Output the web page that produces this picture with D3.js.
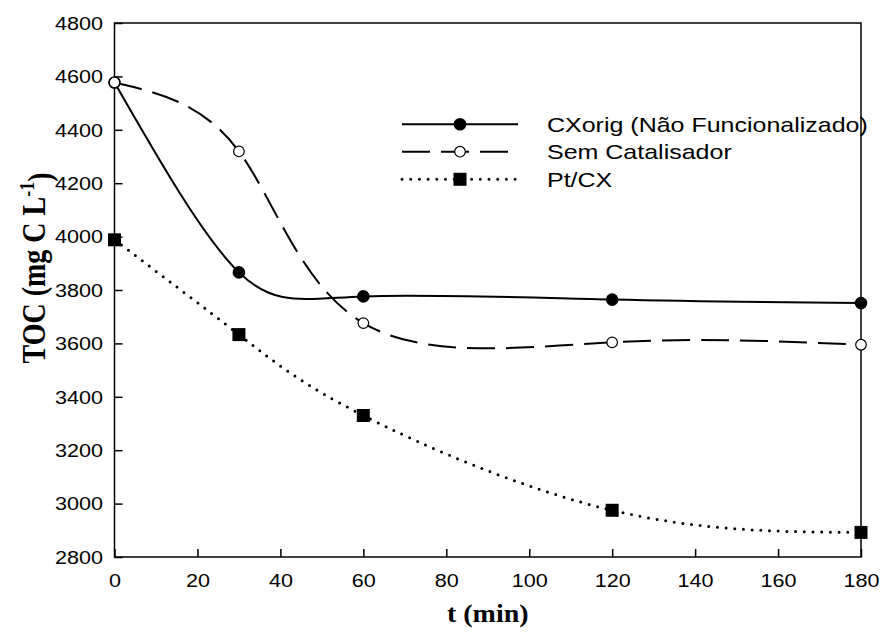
<!DOCTYPE html>
<html><head><meta charset="utf-8">
<script src="https://cdn.jsdelivr.net/npm/d3@7"></script>
<style>body{margin:0;background:#fff}</style>
</head><body>
<svg id="c" width="881" height="633"></svg>
<script>
const times = [0, 30, 60, 120, 180];
const cxorig = [4577, 3866, 3776, 3764, 3751];
const semCat = [4577, 4319, 3676, 3604, 3595];
const ptcx = [3988, 3633, 3330, 2975, 2892];
const xTicks = [0, 20, 40, 60, 80, 100, 120, 140, 160, 180];
const yTicks = [2800, 3000, 3200, 3400, 3600, 3800, 4000, 4200, 4400, 4600, 4800];
const seriesNames = ["CXorig (Não Funcionalizado)", "Sem Catalisador", "Pt/CX"];

const L = 114.5, R = 861, T = 23, B = 557;
const SX = 1.2;
const svg = d3.select("#c");
const x = d3.scaleLinear().domain([0, 180]).range([L, R]);
const y = d3.scaleLinear().domain([2800, 4800]).range([B, T]);

const sans = "Liberation Sans, Arial, sans-serif";
const serif = "Liberation Serif, Times New Roman, serif";

// axes
const ax = svg.append("g").attr("transform", `translate(0,${B})`)
  .call(d3.axisBottom(x).tickValues(xTicks).tickSizeInner(-8).tickSizeOuter(0).tickPadding(17));
const ay = svg.append("g").attr("transform", `translate(${L},0)`)
  .call(d3.axisLeft(y).tickValues(yTicks).tickSizeInner(-8).tickSizeOuter(0).tickPadding(9.5).tickFormat(d3.format("d")));
[ax, ay].forEach(g => {
  g.select(".domain").remove();
  g.selectAll(".tick line").attr("stroke", "#000").attr("stroke-width", 1.5);
  g.selectAll(".tick text").attr("fill", "#000").style("font-family", sans).style("font-size", "18px")
    .attr("transform", `scale(${SX},1)`);
});
ay.selectAll(".tick text").attr("dy", "0.35em");
svg.append("rect").attr("x", L).attr("y", T).attr("width", R - L).attr("height", B - T)
  .attr("fill", "none").attr("stroke", "#000").attr("stroke-width", 1.5);

// titles
svg.append("text").attr("transform", `translate(${(L + R) / 2},622) scale(1.12,1)`).attr("text-anchor", "middle")
  .style("font-family", serif).style("font-weight", "bold").style("font-size", "25px").text("t (min)");
const yt = svg.append("text").attr("transform", `translate(45,268) rotate(-90) scale(1,1.22)`)
  .attr("text-anchor", "middle").style("font-family", serif).style("font-weight", "bold").style("font-size", "28px");
yt.append("tspan").text("TOC (mg C L");
yt.append("tspan").attr("dy", "-0.5em").style("font-size", "18px").text("-1");
yt.append("tspan").attr("dy", "0.5em").text(")");

const line = d3.line().curve(d3.curveNatural).x(d => x(d[0])).y(d => y(d[1]));
const styles = [
  {dash: null, width: 2, cap: "butt"},
  {dash: "28 11", width: 2, cap: "butt"},
  {dash: "0 8.7", width: 3, cap: "round"}
];
const data = [cxorig, semCat, ptcx];

data.forEach((vals, i) => {
  const pts = times.map((t, j) => [t, vals[j]]);
  svg.append("path").attr("d", line(pts)).attr("fill", "none").attr("stroke", "#000")
    .attr("stroke-width", styles[i].width).attr("stroke-linecap", styles[i].cap)
    .attr("stroke-dasharray", styles[i].dash);
});

function marker(g, i, cx, cy) {
  if (i === 0) g.append("circle").attr("cx", cx).attr("cy", cy).attr("r", 6.3).attr("fill", "#000");
  else if (i === 1) g.append("circle").attr("cx", cx).attr("cy", cy).attr("r", 5.3).attr("fill", "#fff").attr("stroke", "#000").attr("stroke-width", 1.2);
  else g.append("rect").attr("x", cx - 6.5).attr("y", cy - 6.5).attr("width", 13).attr("height", 13).attr("fill", "#000");
}
data.forEach((vals, i) => {
  const g = svg.append("g");
  times.forEach((t, j) => marker(g, i, x(t), y(vals[j])));
});

// legend
const legY = [124.3, 151.7, 179.3];
seriesNames.forEach((name, i) => {
  const g = svg.append("g");
  g.append("line").attr("x1", 402).attr("x2", 518).attr("y1", legY[i]).attr("y2", legY[i])
    .attr("stroke", "#000").attr("stroke-width", styles[i].width).attr("stroke-linecap", styles[i].cap)
    .attr("stroke-dasharray", styles[i].dash);
  marker(g, i, 460, legY[i]);
  g.append("text").attr("transform", `translate(547,${legY[i]}) scale(1.19,1)`).attr("dy", "0.36em")
    .style("font-family", sans).style("font-size", "21px").text(name);
});
</script>
</body></html>
